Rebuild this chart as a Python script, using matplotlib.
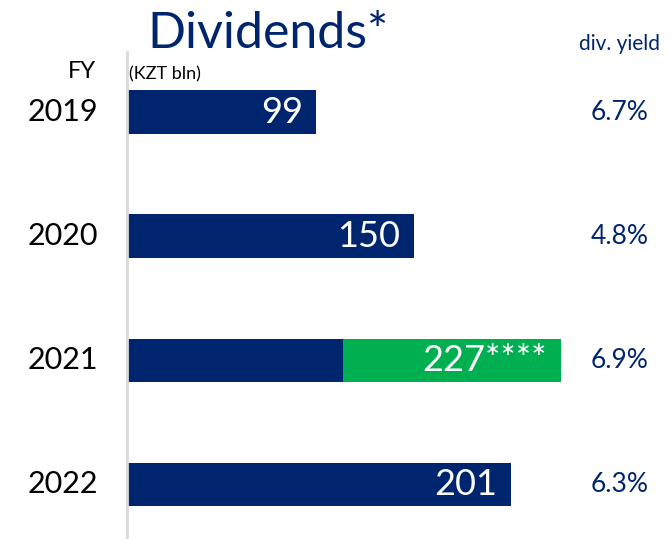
import numpy as np
import matplotlib.pyplot as plt

plt.rcParams['font.family'] = ['Lato', 'DejaVu Sans']

years = ['2019', '2020', '2021', '2022']
dividends = [99, 150, 227, 201]
# 2021 payout split into two parts
part_one = [99, 150, 113, 201]
part_two = [0, 0, 114, 0]
value_labels = ['99', '150', '227****', '201']
div_yield = ['6.7%', '4.8%', '6.9%', '6.3%']

navy = '#00256F'
green = '#00B050'

fig = plt.figure(figsize=(6.71, 5.39), dpi=100)
ax = fig.add_axes([127 / 671, 0, 544 / 671, 487 / 539])

y = np.arange(len(years))
ax.barh(y, part_one, height=0.35, color=navy)
ax.barh(y, part_two, left=part_one, height=0.35, color=green)

ax.set_xlim(0, 284.8)
ax.set_ylim(3.44, -0.484)

for yi, total, lab in zip(y, dividends, value_labels):
    ax.text(total - 7, yi, lab, color='white', fontsize=26,
            ha='right', va='center')

# year labels on the left and yield column on the right
for yi, yr, dy in zip(y, years, div_yield):
    ax.text(-15, yi, yr, color='black', fontsize=22, ha='right', va='center')
    ax.text(258, yi, dy, color=navy, fontsize=19, ha='center', va='center')

ax.text(-16, -0.33, 'FY', color='black', fontsize=17, ha='right', va='center')
ax.text(1, -0.3, '(KZT bln)', color='black', fontsize=13, ha='left', va='center')
ax.text(258, -0.55, 'div. yield', color=navy, fontsize=15, ha='center',
        va='center', clip_on=False)

fig.text(268 / 671, 1 - 34 / 539, 'Dividends*', color=navy, fontsize=36,
         ha='center', va='center')

for s in ['top', 'right', 'bottom']:
    ax.spines[s].set_visible(False)
ax.spines['left'].set_color('#d9d9d9')
ax.spines['left'].set_linewidth(2)
ax.set_xticks([])
ax.set_yticks([])

fig.savefig('out.png', dpi=100)
